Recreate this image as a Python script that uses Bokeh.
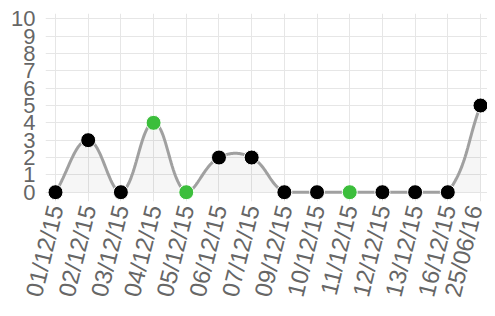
import math
import numpy as np
from bokeh.plotting import figure
from bokeh.models import FixedTicker, Range1d
from bokeh.embed import file_html
from bokeh.resources import INLINE

dates = ["01/12/15", "02/12/15", "03/12/15", "04/12/15", "05/12/15", "06/12/15", "07/12/15",
         "09/12/15", "10/12/15", "11/12/15", "12/12/15", "13/12/15", "16/12/15", "25/06/16"]
values = [0, 3, 0, 4, 0, 2, 2, 0, 0, 0, 0, 0, 0, 5]
point_colors = ["black", "black", "black", "#3cbe3c", "#3cbe3c", "black", "black",
                "black", "black", "#3cbe3c", "black", "black", "black", "black"]
y_ticks = list(range(0, 11))

n = len(values)
xs = np.arange(n, dtype=float)
ys = np.array(values, dtype=float)

# Chart.js-style cardinal spline (tension 0.4), computed in pixel-proportional space
SX, SY = 32.69, 17.34
px, py = xs * SX, ys * SY
tension = 0.4
x_min, x_max = 0.0, (n - 1) * SX
y_min, y_max = 0.0, 10 * SY
cp_prev, cp_next = [], []
for i in range(n):
    pr = i - 1 if i > 0 else i
    nx = i + 1 if i < n - 1 else i
    d01 = math.hypot(px[i] - px[pr], py[i] - py[pr])
    d12 = math.hypot(px[nx] - px[i], py[nx] - py[i])
    tot = d01 + d12
    s01 = d01 / tot if tot else 0
    s12 = d12 / tot if tot else 0
    fa, fb = tension * s01, tension * s12
    dx, dy = px[nx] - px[pr], py[nx] - py[pr]
    a = [px[i] - fa * dx, py[i] - fa * dy]
    b = [px[i] + fb * dx, py[i] + fb * dy]
    for c in (a, b):
        c[0] = min(max(c[0], x_min), x_max)
        c[1] = min(max(c[1], y_min), y_max)
    cp_prev.append(a)
    cp_next.append(b)

curve_x, curve_y = [], []
t = np.linspace(0, 1, 30)
for i in range(n - 1):
    p0 = np.array([px[i], py[i]])
    p1 = np.array(cp_next[i])
    p2 = np.array(cp_prev[i + 1])
    p3 = np.array([px[i + 1], py[i + 1]])
    tt = t[:, None]
    pts = ((1 - tt) ** 3) * p0 + 3 * ((1 - tt) ** 2) * tt * p1 + 3 * (1 - tt) * tt ** 2 * p2 + tt ** 3 * p3
    if i > 0:
        pts = pts[1:]
    curve_x.extend(pts[:, 0] / SX)
    curve_y.extend(pts[:, 1] / SY)

p = figure(width=487, height=308, output_backend="svg", toolbar_location=None,
           x_range=Range1d(-0.306, 13.214), y_range=Range1d(-0.536, 10.306))
p.min_border_left = 45
p.min_border_right = 0
p.min_border_top = 13
p.min_border_bottom = 107
p.outline_line_color = None
p.background_fill_color = "white"

for ax in (p.xaxis[0], p.yaxis[0]):
    ax.axis_line_color = None
    ax.major_tick_line_color = None
    ax.minor_tick_line_color = None
    ax.major_tick_in = 0
    ax.major_tick_out = 0
    ax.major_label_text_color = "#666666"
    ax.major_label_text_font = "Liberation Sans"
    ax.major_label_text_font_size = "22px"

p.xaxis.ticker = FixedTicker(ticks=list(range(n)))
p.xaxis.major_label_overrides = {i: d for i, d in enumerate(dates)}
p.xaxis.major_label_orientation = 1.33
p.xaxis.major_label_standoff = 4
p.xaxis.major_label_text_font_size = "24px"
p.yaxis.ticker = FixedTicker(ticks=y_ticks)
p.yaxis.major_label_standoff = 10

p.xgrid.ticker = FixedTicker(ticks=list(range(n)))
p.ygrid.ticker = FixedTicker(ticks=y_ticks)
p.grid.grid_line_color = "#e6e6e6"
p.grid.grid_line_width = 1

p.patch(x=[curve_x[0]] + curve_x + [curve_x[-1]], y=[0] + curve_y + [0],
        fill_color="black", fill_alpha=0.035, line_color=None)
p.line(curve_x, curve_y, line_color="#a0a0a0", line_width=3)
p.scatter(xs, ys, size=15, fill_color=point_colors, line_color="white", line_width=1)

open("out.html", "w").write(file_html(p, INLINE))
